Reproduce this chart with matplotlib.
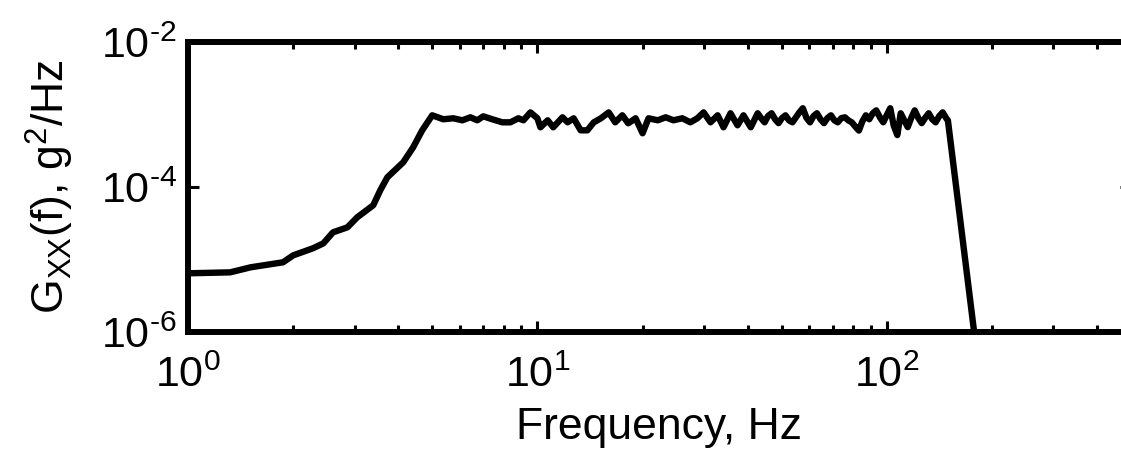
import numpy as np
import matplotlib
matplotlib.use("Agg")
import matplotlib.pyplot as plt

plt.rcParams['font.family'] = ['Liberation Sans', 'DejaVu Sans']
plt.rcParams['mathtext.fontset'] = 'custom'
plt.rcParams['mathtext.rm'] = 'Liberation Sans'
plt.rcParams['mathtext.it'] = 'Liberation Sans:italic'
plt.rcParams['mathtext.bf'] = 'Liberation Sans:bold'

# Frequency (Hz) and PSD (units of 1e-4 g^2/Hz)
freq_low = [1.00, 1.32, 1.51, 1.87, 2.00, 2.28, 2.44, 2.60, 2.86, 3.05, 3.39, 3.55,
            3.72, 4.13, 4.41, 4.68, 5.00]
psd_low = [0.0645, 0.0665, 0.078, 0.0915, 0.114, 0.143, 0.167, 0.237, 0.278, 0.382,
           0.560, 0.90, 1.36, 2.19, 3.53, 6.05, 9.75]

freq_mid = [5.38, 5.74, 6.10, 6.43, 6.73, 7.00, 7.43, 7.94, 8.37, 8.82, 9.12, 9.55,
            10.0, 10.2, 10.7, 11.1, 11.8, 12.2, 12.7, 13.3, 13.9, 14.5, 15.2, 16.0,
            16.7, 17.5, 18.2, 19.1, 20.0, 20.8, 22.1, 23.3, 24.5, 26.0, 27.4, 28.7,
            29.9, 31.3, 32.8, 34.1, 35.7, 37.4, 38.9, 40.8, 42.7]
psd_mid = [8.59, 8.87, 8.32, 9.15, 8.32, 9.44, 8.59, 7.80, 7.80, 8.87, 8.32, 10.7,
           8.87, 6.66, 8.32, 6.66, 9.15, 7.80, 8.87, 6.05, 6.05, 7.80, 8.87, 10.7,
           7.80, 9.75, 7.56, 8.87, 5.51, 8.87, 8.32, 9.15, 8.32, 8.87, 7.80, 8.87,
           10.7, 7.80, 9.75, 6.66, 10.4, 7.10, 9.75, 6.66, 10.4]

freq_high = [43.7, 44.7, 45.7, 46.8, 47.9, 49.0, 50.1, 51.3, 52.5, 53.7, 55.0, 56.2,
             57.5, 58.9, 60.3, 61.7, 63.1, 64.6, 66.1, 67.6, 69.2, 70.8, 72.4, 74.1,
             75.9, 77.6, 79.4, 81.3, 83.2, 85.1, 87.1, 89.1, 91.2, 93.3, 95.5, 97.7,
             100.0, 102.3, 104.7, 107.2, 109.6, 112.2, 114.8, 117.5, 120.2, 123.0,
             125.9, 128.8, 131.8, 134.9, 138.0, 141.3, 144.5, 147.9, 149.6]
psd_high = [8.9, 7.8, 9.5, 10.4, 8.6, 7.6, 8.9, 9.75, 8.3, 7.8, 9.2, 10.7,
            12.2, 9.0, 7.8, 9.5, 10.4, 8.6, 7.6, 8.9, 9.75, 8.3, 7.8, 8.9,
            9.15, 8.3, 7.8, 6.8, 6.0, 8.0, 9.75, 8.6, 10.4, 11.4, 9.2, 7.8,
            9.8, 12.2, 7.0, 5.2, 10.4, 8.3, 6.7, 9.0, 11.4, 9.0,
            7.6, 9.0, 10.4, 8.6, 7.8, 9.5, 10.7, 8.9, 8.3]

freq_drop = [177.6, 180.0]
psd_drop = [0.0105, 0.0059]

freq = np.array(freq_low + freq_mid + freq_high + freq_drop)
psd = np.array(psd_low + psd_mid + psd_high + psd_drop) * 1e-4

x_ticks = [1, 10, 100]
y_ticks = [1e-6, 1e-4, 1e-2]


def exp_label(v):
    e = int(round(np.log10(v)))
    if e < 0:
        return r'$\mathregular{10^{\text{-}%d}}$' % (-e)
    return r'$\mathregular{10^{%d}}$' % e


W, H = 1121, 449
fig = plt.figure(figsize=(W / 100, H / 100), dpi=100)
left, right = 188 / W, 1131 / W
bottom, top = 1 - 332 / H, 1 - 42 / H
ax = fig.add_axes([left, bottom, right - left, top - bottom])

ax.plot(freq, psd, color='black', lw=4.6, solid_joinstyle='round')
ax.set_xscale('log')
ax.set_yscale('log')
ax.set_xlim(1, 500)
ax.set_ylim(1e-6, 1e-2)

ax.set_xticks(x_ticks)
ax.set_xticklabels([exp_label(v) for v in x_ticks])
ax.set_yticks(y_ticks)
ax.set_yticklabels([exp_label(v) for v in y_ticks])
ax.yaxis.set_minor_locator(matplotlib.ticker.NullLocator())

for s in ax.spines.values():
    s.set_linewidth(4.3)

ax.tick_params(which='both', direction='in', top=True, right=True, labelsize=31,
               width=2.2, color='black')
ax.tick_params(which='major', length=8, pad=8)
ax.tick_params(which='minor', length=5)
ax.tick_params(axis='x', which='major', pad=17)

ax.set_xlabel('Frequency, Hz', fontsize=32, labelpad=8)
ax.set_ylabel(r'G$_{\mathregular{XX}}$(f), g$^{\mathregular{2}}$/Hz', fontsize=32, labelpad=18)

fig.savefig('out.png', dpi=100)
